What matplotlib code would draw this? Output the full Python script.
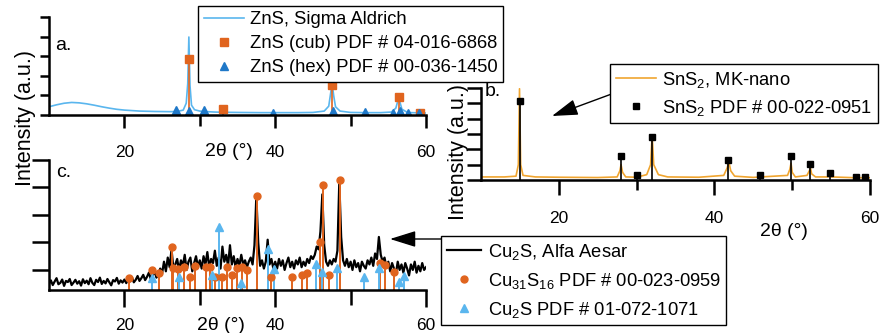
import numpy as np
import matplotlib
matplotlib.use('Agg')
import matplotlib.pyplot as plt
from matplotlib.ticker import FixedLocator

plt.rcParams['font.family'] = ['Liberation Sans', 'DejaVu Sans']
plt.rcParams['mathtext.fontset'] = 'custom'
plt.rcParams['mathtext.rm'] = 'Liberation Sans'
plt.rcParams['mathtext.it'] = 'Liberation Sans:italic'
plt.rcParams['mathtext.bf'] = 'Liberation Sans:bold'

# ---- a. ZnS (Sigma Aldrich) ----
zns_2theta = [10, 11, 12, 13, 14, 15, 16, 17, 18, 19, 20, 22, 24, 26, 27, 27.8, 28.2, 28.4,
              28.55, 28.7, 28.9, 29.3, 30, 31, 32, 33, 35, 38, 40, 43, 45, 46.5, 47.1, 47.35,
              47.55, 47.75, 48.0, 48.6, 50, 52, 54, 55.4, 56.0, 56.25, 56.4, 56.55, 56.8, 57.4,
              58, 59, 60]
zns_counts = [0.42, 0.52, 0.6, 0.64, 0.62, 0.57, 0.5, 0.42, 0.35, 0.29, 0.25, 0.2, 0.18, 0.17,
              0.18, 0.25, 0.6, 1.6, 3.98, 1.5, 0.5, 0.27, 0.2, 0.17, 0.15, 0.14, 0.13, 0.12,
              0.12, 0.12, 0.13, 0.2, 0.45, 1.1, 1.64, 1.0, 0.42, 0.2, 0.13, 0.12, 0.12, 0.15,
              0.35, 0.7, 0.85, 0.65, 0.3, 0.16, 0.12, 0.11, 0.1]
zns_cub_pos = [28.6, 33.1, 47.5, 56.4, 59.2]
zns_cub_int = [2.86, 0.30, 1.53, 0.92, 0.12]
zns_hex_pos = [26.9, 28.6, 30.6, 39.7, 47.6, 51.9, 55.6, 56.5, 57.6, 59.1]
zns_hex_int = [0.25, 0.2, 0.25, 0.12, 0.2, 0.17, 0.12, 0.2, 0.12, 0.1]

# ---- b. SnS2 (MK-nano) ----
sns2_2theta = [10, 13, 14.5, 14.8, 14.95, 15.1, 15.4, 17, 20, 25, 27.5, 27.85, 28.0, 28.2, 28.6,
               30, 31.3, 31.8, 32.0, 32.2, 32.8, 34, 38, 41.2, 41.65, 41.85, 42.1, 42.6, 45,
               49.4, 49.7, 49.85, 50.0, 50.4, 51.9, 52.2, 52.35, 52.5, 53, 54.6, 54.8, 55, 58, 60]
sns2_counts = [0.2, 0.2, 0.25, 1.0, 5.95, 1.0, 0.3, 0.2, 0.18, 0.16, 0.2, 0.6, 1.0, 0.5, 0.2,
               0.18, 0.35, 1.0, 2.9, 1.0, 0.35, 0.2, 0.18, 0.3, 0.8, 1.2, 0.6, 0.25, 0.17,
               0.3, 0.7, 1.1, 0.5, 0.2, 0.3, 0.6, 0.8, 0.4, 0.2, 0.2, 0.35, 0.2, 0.15, 0.15]
sns2_pdf_pos = [15.0, 28.0, 30.1, 32.0, 41.8, 45.9, 49.8, 52.3, 54.8, 58.2, 59.4]
sns2_pdf_int = [5.16, 1.57, 0.30, 2.83, 1.31, 0.30, 1.57, 1.07, 0.46, 0.22, 0.22]

# ---- c. Cu2S (Alfa Aesar), read every 0.25 deg from 10 to 60 ----
cu2s_counts = [
    -0.50, -0.38, -0.55, -0.42, -0.30, -0.52, -0.47, -0.35, -0.58, -0.40,
    -0.44, -0.33, -0.55, -0.46, -0.36, -0.50, -0.41, -0.57, -0.34, -0.48,
    -0.39, -0.52, -0.30, -0.47, -0.55, -0.36, -0.44, -0.28, -0.51, -0.40,
    -0.49, -0.33, -0.45, -0.56, -0.37, -0.42, -0.29, -0.50, -0.38, -0.46,
    -0.35, -0.48, -0.31, -0.42, -0.27, -0.45, -0.36, -0.22, -0.40, -0.30,
    -0.18, -0.37, -0.25, -0.10, -0.33, -0.20, -0.05, -0.28, -0.15, 0.05,
    -0.12, 0.30, -0.05, 0.45, 0.10, 0.75, 0.05, 0.20, 0.40, -0.02,
    0.35, 0.15, 0.55, 0.00, 0.30, 0.45, -0.05, 0.25, 0.50, 0.10,
    0.35, 0.05, 0.50, 0.20, 0.65, 0.10, 0.40, 0.25, 0.70, 0.15,
    0.45, 0.05, 0.85, 0.30, 0.55, 0.15, 0.90, 0.20, 0.50, 0.10,
    0.40, 0.15, 0.55, 0.20, 0.35, 0.10, 0.30, 0.45, 0.20, 0.90,
    2.70, 1.00, 0.15, 0.35, 0.05, 0.30, 1.10, 0.20, 0.40, 0.05,
    0.30, 0.05, 0.40, 0.15, 0.35, 0.00, 0.25, 0.45, 0.10, 0.30,
    0.05, 0.35, 0.20, 0.45, 0.10, 0.30, 0.15, 0.40, 0.25, 0.50,
    0.40, 0.55, 0.85, 0.75, 1.40, 2.75, 0.90, 0.30, 0.15, 0.35,
    0.20, 0.40, 0.30, 0.70, 3.20, 1.20, 0.35, 0.15, 0.40, 0.10,
    0.30, 0.00, 0.35, 0.10, 0.25, -0.05, 0.30, 0.15, 0.05, 0.35,
    0.20, 0.45, 0.15, 0.60, 0.40, 1.20, 0.55, 0.30, 0.45, 0.10,
    0.30, -0.05, 0.25, 0.05, -0.15, 0.30, 0.00, 0.20, -0.10, 0.25,
    0.05, -0.20, 0.20, 0.00, 0.30, -0.10, 0.15, -0.05, 0.25, 0.00, 0.10]
cu2s_2theta = np.linspace(10, 60, len(cu2s_counts))
cu31_pos = [20.65, 23.6, 24.6, 26.3, 26.4, 27.1, 27.9, 28.7, 29.4, 30.8, 31.35, 32.0, 33.0,
            33.55, 34.3, 34.9, 35.55, 36.3, 37.55, 39.4, 42.2, 43.6, 44.2, 46.0, 46.3, 47.2,
            48.6, 53.9, 54.55, 55.8]
cu31_int = [-0.28, -0.02, -0.12, 0.82, 0.06, 0.04, 0.12, -0.24, 0.16, 0.12, 0.1, -0.24, -0.24,
            0.12, -0.18, 0.06, 0.1, -0.02, 2.7, -0.24, -0.24, -0.18, -0.12, 1.0, 3.09, -0.2,
            3.27, 0.27, 0.18, -0.06]
chalc_pos = [23.7, 27.3, 31.6, 32.6, 35.5, 39.0, 39.85, 45.4, 46.2, 48.2, 51.8, 53.8, 56.4, 57.1]
chalc_int = [-0.3, -0.24, -0.2, 1.55, -0.48, 0.75, 0.04, 0.2, -0.06, 0.08, -0.24, 0.08, -0.45,
             -0.22]

W, H = 881, 333
fig = plt.figure(figsize=(W / 100, H / 100), dpi=100)


def box(l, t, r, b):
    return fig.add_axes([l / W, 1 - b / H, (r - l) / W, (b - t) / H])


def fx(p):
    return p / W


def fy(p):
    return 1 - p / H


def style(ax, ymin, ymax, xlen, xminlen, xpad, ylen):
    ax.set_xlim(10, 60)
    ax.set_ylim(ymin, ymax)
    for s in ['top', 'right']:
        ax.spines[s].set_visible(False)
    for s in ['left', 'bottom']:
        ax.spines[s].set_linewidth(1.8)
    ax.xaxis.set_major_locator(FixedLocator([20, 40, 60]))
    ax.xaxis.set_minor_locator(FixedLocator([30, 50]))
    ax.set_yticks(range(0, int(ymax) + 1))
    ax.tick_params(axis='x', which='major', length=xlen, width=1.8, pad=xpad, labelsize=12.5)
    ax.tick_params(axis='x', which='minor', length=xminlen, width=1.8)
    ax.tick_params(axis='y', length=ylen, width=1.8, labelleft=False)
    ax.patch.set_alpha(0)


orange = '#e0641e'
lightblue = '#5ab6ee'
blue = '#1f78c8'
gold = '#f0a530'

# a.
ax_a = box(49, 17, 426, 115)
style(ax_a, 0, 5, 9.5, 8, 12, 6.5)
la, = ax_a.plot(zns_2theta, zns_counts, color=lightblue, lw=1.2, label='ZnS, Sigma Aldrich')
ax_a.vlines(zns_hex_pos, 0, zns_hex_int, color=blue, lw=1.2)
ax_a.vlines(zns_cub_pos, 0, zns_cub_int, color=orange, lw=1.2)
lb, = ax_a.plot(zns_cub_pos, zns_cub_int, 's', color=orange, ms=5.5, ls='none',
                label='ZnS (cub) PDF # 04-016-6868')
lc, = ax_a.plot(zns_hex_pos, zns_hex_int, '^', color=blue, ms=6, ls='none',
                label='ZnS (hex) PDF # 00-036-1450')

# b.
ax_b = box(481, 88, 870, 180)
style(ax_b, 0, 6, 11, 7, 11, 10)
lbb, = ax_b.plot(sns2_2theta, sns2_counts, color=gold, lw=1.2, label='SnS$_2$, MK-nano')
ax_b.vlines(sns2_pdf_pos, 0, sns2_pdf_int, color='black', lw=1.2)
lbp, = ax_b.plot(sns2_pdf_pos, sns2_pdf_int, 's', color='black', ms=5, ls='none',
                 label='SnS$_2$ PDF # 00-022-0951')

# c.
ax_c = box(49, 160, 426, 290)
style(ax_c, -0.73, 4, 12, 11, 8, 12)
lcl, = ax_c.plot(cu2s_2theta, cu2s_counts, color='black', lw=1.6, label='Cu$_2$S, Alfa Aesar')
ax_c.vlines(cu31_pos, -0.73, cu31_int, color=orange, lw=1.4)
ax_c.vlines(chalc_pos, -0.73, chalc_int, color=lightblue, lw=1.4)
lco, = ax_c.plot(cu31_pos, cu31_int, 'o', color=orange, ms=5, ls='none',
                 label='Cu$_{31}$S$_{16}$ PDF # 00-023-0959')
lct, = ax_c.plot(chalc_pos, chalc_int, '^', color=lightblue, ms=5.5, ls='none',
                 label='Cu$_2$S PDF # 01-072-1071')

legend_kw = dict(loc='upper left', borderaxespad=0, fancybox=False, edgecolor='black',
                 framealpha=1, handletextpad=0.35, borderpad=0.3, fontsize=13.2)
leg_a = fig.legend(handles=[la, lb, lc], bbox_to_anchor=(fx(198), fy(6)),
                   labelspacing=0.38, handlelength=2.2, **legend_kw)
leg_b = fig.legend(handles=[lbb, lbp], bbox_to_anchor=(fx(610), fy(64)),
                   labelspacing=0.45, handlelength=2.2, **legend_kw)
leg_c = fig.legend(handles=[lcl, lco, lct], bbox_to_anchor=(fx(441), fy(236)),
                   labelspacing=0.5, handlelength=1.9, **legend_kw)
for lg in (leg_a, leg_b, leg_c):
    lg.get_frame().set_linewidth(1.0)

# arrows from legends
arrow = dict(arrowstyle='-|>,head_length=0.8,head_width=0.25', color='black', lw=1,
             mutation_scale=20, shrinkA=0, shrinkB=0)
fig.add_artist(matplotlib.patches.FancyArrowPatch((fx(617), fy(92)), (fx(552), fy(116)),
                                                  transform=fig.transFigure, **arrow))
fig.add_artist(matplotlib.patches.FancyArrowPatch((fx(441), fy(239)), (fx(390), fy(239)),
                                                  transform=fig.transFigure, **arrow))

# labels
fig.text(fx(55), fy(45), 'a.', fontsize=14, ha='left', va='center')
fig.text(fx(485), fy(92), 'b.', fontsize=14, ha='left', va='center')
fig.text(fx(56), fy(173), 'c.', fontsize=14, ha='left', va='center')
fig.text(fx(229), fy(152), '2θ (°)', fontsize=14, ha='center', va='center')
fig.text(fx(784), fy(231), '2θ (°)', fontsize=14, ha='center', va='center')
fig.text(fx(221), fy(326), '2θ (°)', fontsize=14, ha='center', va='center')
fig.text(fx(26), fy(118), 'Intensity (a.u.)', fontsize=15.5, rotation=90, ha='center', va='center')
fig.text(fx(459), fy(152), 'Intensity (a.u.)', fontsize=15.5, rotation=90, ha='center', va='center')

fig.savefig('out.png', dpi=100)
